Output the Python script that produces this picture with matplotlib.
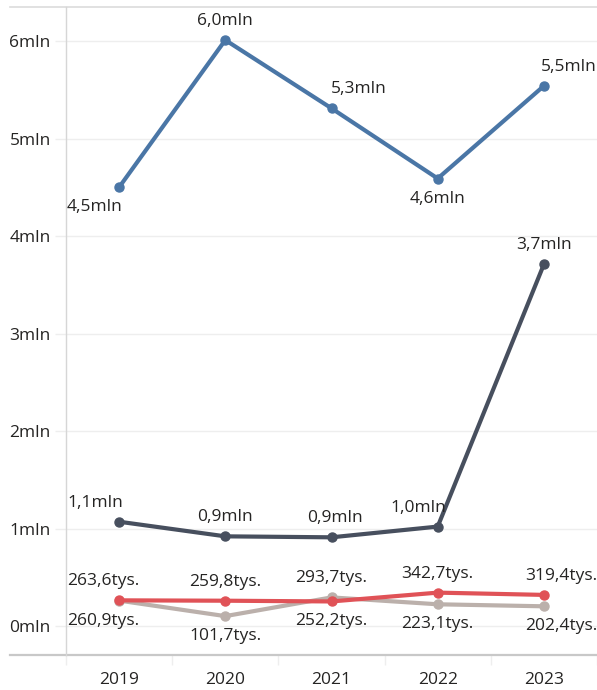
import matplotlib
matplotlib.use("Agg")
import matplotlib.pyplot as plt

plt.rcParams['font.family'] = ['Open Sans', 'DejaVu Sans']

years = ['2019', '2020', '2021', '2022', '2023']

# values in mln
blue_vals = [4.50, 6.01, 5.31, 4.59, 5.54]
dark_vals = [1.07, 0.92, 0.91, 1.02, 3.71]
# values in tys.
red_vals = [263.6, 259.8, 252.2, 342.7, 319.4]
beige_vals = [260.9, 101.7, 293.7, 223.1, 202.4]

blue_labels = ['4,5mln', '6,0mln', '5,3mln', '4,6mln', '5,5mln']
dark_labels = ['1,1mln', '0,9mln', '0,9mln', '1,0mln', '3,7mln']
red_labels = ['263,6tys.', '259,8tys.', '252,2tys.', '342,7tys.', '319,4tys.']
beige_labels = ['260,9tys.', '101,7tys.', '293,7tys.', '223,1tys.', '202,4tys.']

# label placement: 'a' above / 'b' below, horizontal nudge in pixels,
# and 'L'/'R' to snap a label against the plot edge
blue_pos = ['b', 'a', 'a', 'b', 'a']
blue_dx = [0, 0, 27, 0, 0]
blue_snap = ['L', '', '', '', 'R']
dark_pos = ['a', 'a', 'a', 'a', 'a']
dark_dx = [0, 0, 3, -19, 0]
dark_snap = ['L', '', '', '', '']
red_pos = ['a', 'a', 'b', 'a', 'a']
beige_pos = ['b', 'b', 'a', 'b', 'b']
tys_snap = ['L', '', '', '', 'R']
zero_dx = [0, 0, 0, 0, 0]

yticks = [0, 1, 2, 3, 4, 5, 6]
ytick_labels = ['0mln', '1mln', '2mln', '3mln', '4mln', '5mln', '6mln']

c_blue = '#4a76a6'
c_dark = '#474f5e'
c_red = '#e05257'
c_beige = '#bbb0ab'
c_text = '#252423'
fs = 12.5

fig = plt.figure(figsize=(5.97, 6.9), dpi=100)
ax = fig.add_axes([66 / 597, 1 - 655 / 690, 1 - 66 / 597, (655 - 7) / 690])

x = list(range(len(years)))
red_m = [v / 1000 for v in red_vals]
beige_m = [v / 1000 for v in beige_vals]

series = [
    (beige_m, c_beige, beige_labels, beige_pos, zero_dx, tys_snap),
    (red_m, c_red, red_labels, red_pos, zero_dx, tys_snap),
    (dark_vals, c_dark, dark_labels, dark_pos, dark_dx, dark_snap),
    (blue_vals, c_blue, blue_labels, blue_pos, blue_dx, blue_snap),
]

texts = []
for vals, col, labs, pos, dxs, snaps in series:
    ax.plot(x, vals, color=col, lw=3.0, marker='o', ms=6.5, solid_capstyle='round', zorder=3)
    for i, v in enumerate(vals):
        dy = 19 if pos[i] == 'a' else -20
        t = ax.annotate(labs[i], (i, v), xytext=(dxs[i], dy), textcoords='offset pixels',
                        ha='center', va='center', fontsize=fs, color=c_text, zorder=4)
        texts.append((t, snaps[i]))

ax.set_xlim(-0.5, 4.5)
ax.set_ylim(-0.297, 6.349)
ax.set_xticks(x)
ax.set_xticklabels(years)
ax.set_xticks([i + 0.5 for i in range(-1, 5)], minor=True)
ax.set_yticks(yticks)
ax.set_yticklabels(ytick_labels)
ax.tick_params(axis='y', length=8, color='#eeeeee', width=1, labelsize=fs, labelcolor=c_text, pad=3)
ax.tick_params(axis='x', which='major', length=0, labelsize=fs, labelcolor=c_text, pad=12)
ax.tick_params(axis='x', which='minor', length=7, color='#eeeeee', width=1)
ax.grid(axis='y', color='#eeeeee', lw=1)
ax.set_axisbelow(True)
for s in ['top', 'right', 'bottom']:
    ax.spines[s].set_visible(False)
ax.spines['left'].set_color('#d6d6d6')
ax.spines['left'].set_linewidth(1)

# frame lines reaching past the axes on the left
ax.plot([-0.105, 1], [1, 1], transform=ax.transAxes, color='#dcdcdc', lw=1.2, clip_on=False)
ax.plot([-0.105, 1], [0, 0], transform=ax.transAxes, color='#c8c8c8', lw=1.6, clip_on=False)

# snap edge labels against the plot area borders
fig.canvas.draw()
r = fig.canvas.get_renderer()
abox = ax.get_window_extent(r)
for t, snap in texts:
    bb = t.get_window_extent(r)
    dx, dy = t.xyann
    if snap == 'L':
        t.xyann = (dx + abox.x0 + 1 - bb.x0, dy)
    elif snap == 'R':
        t.xyann = (dx - (bb.x1 - abox.x1), dy)

fig.savefig('out.png', dpi=100)
